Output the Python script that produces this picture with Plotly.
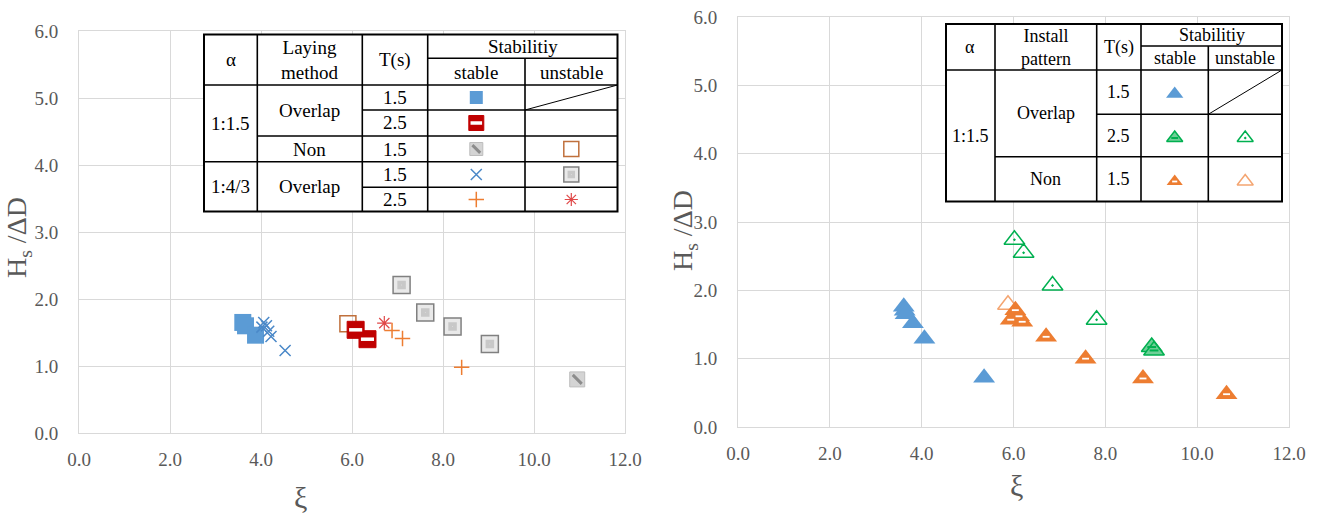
import plotly.graph_objects as go

W, H = 1322, 516

# ---------------- data: left panel (ξ vs Hs/ΔD) ----------------
# α = 1:1.5, overlap, T = 1.5 s, stable
l_a_ov15_st_x = [3.60, 3.66, 3.88]
l_a_ov15_st_y = [1.65, 1.60, 1.46]
# α = 1:1.5, overlap, T = 2.5 s, stable
l_a_ov25_st_x = [6.08, 6.34]
l_a_ov25_st_y = [1.54, 1.40]
# α = 1:1.5, non-overlap, T = 1.5 s
l_a_non_st_x = [10.95]
l_a_non_st_y = [0.80]
l_a_non_un_x = [5.91]
l_a_non_un_y = [1.63]
# α = 1:4/3, overlap, T = 1.5 s
l_b_ov15_st_x = [4.02, 4.06, 4.12, 4.17, 4.22, 4.53]
l_b_ov15_st_y = [1.58, 1.65, 1.60, 1.52, 1.44, 1.23]
l_b_ov15_un_x = [7.09, 7.61, 8.21, 9.03]
l_b_ov15_un_y = [2.21, 1.80, 1.59, 1.33]
# α = 1:4/3, overlap, T = 2.5 s
l_b_ov25_st_x = [6.88, 7.11, 8.41]
l_b_ov25_st_y = [1.53, 1.41, 0.98]
l_b_ov25_un_x = [6.71]
l_b_ov25_un_y = [1.64]

# ---------------- data: right panel ----------------
r_ov15_st_x = [3.61, 3.63, 3.65, 3.81, 4.06, 5.36]
r_ov15_st_y = [1.76, 1.70, 1.65, 1.52, 1.29, 0.72]
r_ov25_st_x = [9.01, 9.06]
r_ov25_st_y = [1.17, 1.12]
r_ov25_un_x = [6.02, 6.22, 6.85, 7.81]
r_ov25_un_y = [2.74, 2.55, 2.07, 1.57]
r_non_st_x = [6.04, 6.12, 5.94, 6.19, 6.71, 7.57, 8.82, 10.64]
r_non_st_y = [1.71, 1.62, 1.57, 1.54, 1.32, 1.00, 0.71, 0.48]
r_non_un_x = [5.88]
r_non_un_y = [1.79]

x_ticks = [0, 2, 4, 6, 8, 10, 12]
y_ticks = [0, 1, 2, 3, 4, 5, 6]

SERIF = "Liberation Serif, Times New Roman, serif"
GRAY_TXT = "#595959"
GRID = "#D9D9D9"

# plot-area boxes in page pixels
LEFT = dict(x0=79, x1=625, y0=31, y1=433, xa="x", ya="y")
RIGHT = dict(x0=738, x1=1289, y0=17, y1=427, xa="x2", ya="y2")


def to_data(box, px, py):
    x = (px - box["x0"]) / (box["x1"] - box["x0"]) * 12.0
    y = (box["y1"] - py) / (box["y1"] - box["y0"]) * 6.0
    return x, y


def px(p):
    return p / W


def py(p):
    return 1 - p / H


# ---------------- marker styles ----------------
def mk(symbol, size, color, lw=0, lc=None):
    return dict(symbol=symbol, size=size, color=color,
                line=dict(width=lw, color=lc if lc else color))


STY = {
    "blue_sq": (lambda s: mk("square", s, "#5B9BD5"), None),
    "red_str": (lambda s: mk("square", s, "#C00000", 1, "#C00000"),
                lambda s: mk("line-ew", s * 0.55, "#FFFFFF", 3.5, "#FFFFFF")),
    "gray_diag": (lambda s: mk("square", s, "#D4D4D4", 1, "#BDBDBD"),
                  lambda s: mk("line-nw", s * 0.6, "#8C8C8C", 3, "#8C8C8C")),
    "brown_open": (lambda s: mk("square-open", s, "#C0703C", 1.5, "#C0703C"), None),
    "blue_x": (lambda s: mk("x-thin", s, "#5B9BD5", 1.5, "#4A88C8"), None),
    "gray_dot": (lambda s: mk("square", s, "#E9E9E9", 1.5, "#808080"),
                 lambda s: mk("square-dot", s * 0.5, "#C8C8C8", 0)),
    "orange_plus": (lambda s: mk("cross-thin", s, "#ED7D31", 1.5, "#ED7D31"), None),
    "red_ast": (lambda s: mk("asterisk", s, "#E04848", 1.2, "#E04848"), None),
    "blue_tri": (lambda s: mk("triangle-up", s, "#5B9BD5"), None),
    "green_st": (lambda s: mk("triangle-up", s, "#6FCF97", 1.5, "#00B050"),
                 lambda s: mk("line-ew", s * 0.35, "#00B050", 2, "#00B050")),
    "green_un": (lambda s: mk("triangle-up-open-dot", s, "#00B050", 1.5, "#00B050"), None),
    "orange_str": (lambda s: mk("triangle-up", s, "#ED7D31"),
                   lambda s: mk("line-ew", s * 0.26, "#FFFFFF", 1.8, "#FFFFFF")),
    "orange_open": (lambda s: mk("triangle-up-open", s, "#F4A571", 1.5, "#F4A571"), None),
}

fig = go.Figure()


def add_points(xs, ys, key, size, box):
    base, over = STY[key]
    common = dict(mode="markers", xaxis=box["xa"], yaxis=box["ya"], cliponaxis=False,
                  hoverinfo="skip", showlegend=False)
    fig.add_trace(go.Scatter(x=xs, y=ys, marker=base(size), **common))
    if over is not None:
        fig.add_trace(go.Scatter(x=xs, y=ys, marker=over(size), **common))


# left panel series
add_points(l_a_ov15_st_x, l_a_ov15_st_y, "blue_sq", 17, LEFT)
add_points(l_b_ov15_st_x, l_b_ov15_st_y, "blue_x", 11, LEFT)
add_points(l_a_non_un_x, l_a_non_un_y, "brown_open", 16, LEFT)
add_points(l_a_ov25_st_x, l_a_ov25_st_y, "red_str", 17, LEFT)
add_points(l_b_ov25_un_x, l_b_ov25_un_y, "red_ast", 12, LEFT)
add_points(l_b_ov25_st_x, l_b_ov25_st_y, "orange_plus", 11, LEFT)
add_points(l_b_ov15_un_x, l_b_ov15_un_y, "gray_dot", 17, LEFT)
add_points(l_a_non_st_x, l_a_non_st_y, "gray_diag", 15, LEFT)

# right panel series
add_points(r_ov15_st_x, r_ov15_st_y, "blue_tri", 19, RIGHT)
add_points(r_ov25_un_x, r_ov25_un_y, "green_un", 18, RIGHT)
add_points(r_ov25_st_x, r_ov25_st_y, "green_st", 18, RIGHT)
add_points(r_non_un_x, r_non_un_y, "orange_open", 18, RIGHT)
add_points(r_non_st_x, r_non_st_y, "orange_str", 19, RIGHT)

shapes = []
annotations = []


def table(box, outer, vlines, hlines, diag, texts, samples, fsize):
    # white background behind the table (above gridlines, below markers)
    x0, y0 = to_data(box, outer[0], outer[1])
    x1, y1 = to_data(box, outer[2], outer[3])
    shapes.append(dict(type="rect", xref=box["xa"], yref=box["ya"], x0=x0, y0=y0, x1=x1, y1=y1,
                       fillcolor="white", line=dict(width=0), layer="between"))
    shapes.append(dict(type="rect", xref="paper", yref="paper",
                       x0=px(outer[0]), y0=py(outer[1]), x1=px(outer[2]), y1=py(outer[3]),
                       line=dict(color="black", width=2), layer="above"))
    for (x, ya, yb) in vlines:
        shapes.append(dict(type="line", xref="paper", yref="paper", x0=px(x), x1=px(x),
                           y0=py(ya), y1=py(yb), line=dict(color="black", width=1.6)))
    for (y, xa, xb) in hlines:
        shapes.append(dict(type="line", xref="paper", yref="paper", x0=px(xa), x1=px(xb),
                           y0=py(y), y1=py(y), line=dict(color="black", width=1.6)))
    shapes.append(dict(type="line", xref="paper", yref="paper", x0=px(diag[0]), y0=py(diag[1]),
                       x1=px(diag[2]), y1=py(diag[3]), line=dict(color="black", width=1)))
    for (t, x, y) in texts:
        annotations.append(dict(text=t, x=px(x), y=py(y), xref="paper", yref="paper",
                                showarrow=False, xanchor="center", yanchor="middle",
                                font=dict(family=SERIF, size=fsize, color="black")))
    for (key, size, x, y) in samples:
        dx, dy = to_data(box, x, y)
        add_points([dx], [dy], key, size, box)


# left legend table
table(
    LEFT,
    outer=(204, 34.5, 617.5, 211.5),
    vlines=[(257.3, 34.5, 211.5), (362.3, 34.5, 211.5), (427.7, 34.5, 211.5), (525, 58.3, 211.5)],
    hlines=[(58.3, 427.7, 617.5), (85, 204, 617.5), (110, 362.3, 617.5), (136, 257.3, 617.5),
            (161.7, 204, 617.5), (187.3, 362.3, 617.5)],
    diag=(525, 110, 617.5, 85),
    texts=[("α", 230.7, 60), ("Laying<br>method", 309.8, 60), ("T(s)", 395, 60),
           ("Stabilitiy", 522.6, 46.5), ("stable", 476.3, 72), ("unstable", 571.3, 72),
           ("1:1.5", 230.7, 123.3), ("Overlap", 309.8, 110.5), ("1.5", 395, 97.5),
           ("2.5", 395, 123), ("Non", 309.8, 149), ("1.5", 395, 149),
           ("1:4/3", 230.7, 186.6), ("Overlap", 309.8, 186.6), ("1.5", 395, 174.5),
           ("2.5", 395, 199.5)],
    samples=[("blue_sq", 13, 476.3, 97.5), ("red_str", 15, 476.3, 123),
             ("gray_diag", 13, 476.3, 149), ("brown_open", 15, 571.3, 149),
             ("blue_x", 11, 476.3, 174.5), ("gray_dot", 15, 571.3, 174.5),
             ("orange_plus", 11, 476.3, 199.5), ("red_ast", 11, 571.3, 199.5)],
    fsize=19,
)

# right legend table
table(
    RIGHT,
    outer=(946, 24, 1282, 201.5),
    vlines=[(995, 24, 201.5), (1096.7, 24, 201.5), (1141, 24, 201.5), (1208.3, 46, 201.5)],
    hlines=[(46, 1141, 1282), (70, 946, 1282), (114.3, 1096.7, 1282), (156.7, 995, 1282)],
    diag=(1208.3, 114.3, 1282, 70),
    texts=[("α", 970.5, 47.5), ("Install<br>pattern", 1045.8, 47.5), ("T(s)", 1118.8, 47.5),
           ("Stabilitiy", 1211.5, 35), ("stable", 1174.7, 58.5), ("unstable", 1245.2, 58.5),
           ("1:1.5", 970.5, 135.8), ("Overlap", 1045.8, 113.3), ("1.5", 1118.8, 92.2),
           ("2.5", 1118.8, 135.5), ("Non", 1045.8, 179.2), ("1.5", 1118.8, 179.2)],
    samples=[("blue_tri", 15, 1174.7, 94), ("green_st", 14, 1174.7, 138),
             ("green_un", 14, 1245.2, 138), ("orange_str", 14, 1174.7, 181.5),
             ("orange_open", 14, 1245.2, 181.5)],
    fsize=18,
)

# axis titles
for (x, y) in [(19, 238), (684, 230)]:
    annotations.append(dict(text="H<sub>s</sub> /ΔD", x=px(x), y=py(y), xref="paper", yref="paper",
                            showarrow=False, textangle=-90, xanchor="center", yanchor="middle",
                            font=dict(family=SERIF, size=28, color=GRAY_TXT)))
for (x, y) in [(300, 497), (1016, 485)]:
    annotations.append(dict(text="ξ", x=px(x), y=py(y), xref="paper", yref="paper",
                            showarrow=False, xanchor="center", yanchor="middle",
                            font=dict(family=SERIF, size=30, color=GRAY_TXT)))


def xaxis(box, anchor):
    return dict(domain=[px(box["x0"]), px(box["x1"])], range=[0, 12], tickvals=x_ticks,
                ticktext=[f"{v:.1f}" for v in x_ticks], anchor=anchor, automargin=False,
                showgrid=True, gridcolor=GRID, gridwidth=1, zeroline=False,
                showline=True, linecolor=GRID, linewidth=1, mirror=True,
                ticks="", ticklabelstandoff=9,
                tickfont=dict(family=SERIF, size=19, color=GRAY_TXT), fixedrange=True)


def yaxis(box, anchor):
    return dict(domain=[py(box["y1"]), py(box["y0"])], range=[0, 6], tickvals=y_ticks,
                ticktext=[f"{v:.1f}" for v in y_ticks], anchor=anchor, automargin=False,
                showgrid=True, gridcolor=GRID, gridwidth=1, zeroline=False,
                showline=True, linecolor=GRID, linewidth=1, mirror=True,
                ticks="", ticklabelstandoff=16,
                tickfont=dict(family=SERIF, size=19, color=GRAY_TXT), fixedrange=True)


fig.update_layout(
    width=W, height=H,
    margin=dict(l=0, r=0, t=0, b=0, autoexpand=False),
    paper_bgcolor="white", plot_bgcolor="white",
    xaxis=xaxis(LEFT, "y"), yaxis=yaxis(LEFT, "x"),
    xaxis2=xaxis(RIGHT, "y2"), yaxis2=yaxis(RIGHT, "x2"),
    shapes=shapes, annotations=annotations,
    showlegend=False,
)

fig.write_html("out.html")
